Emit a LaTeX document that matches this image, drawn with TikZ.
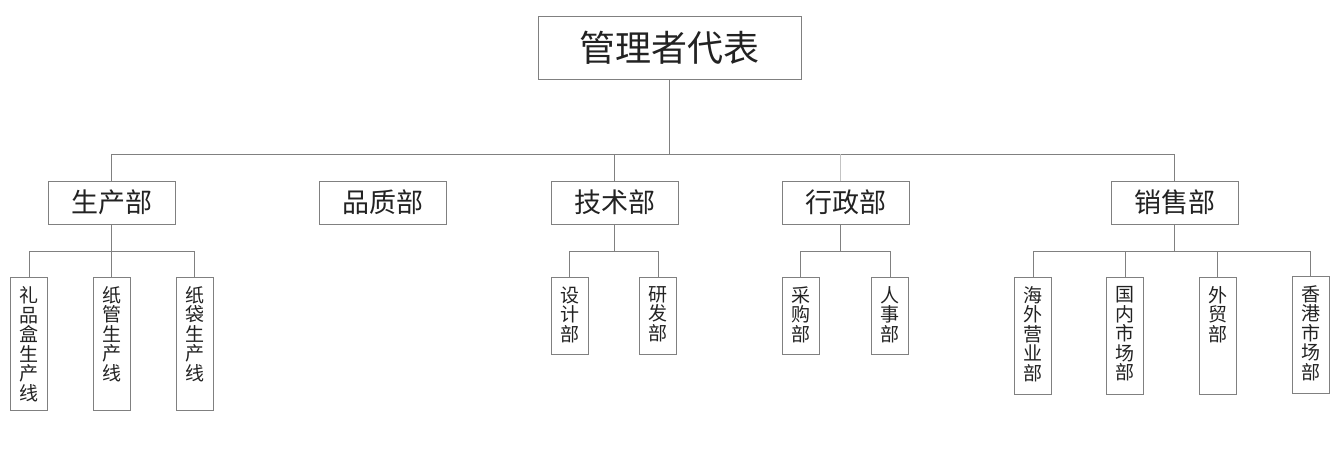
\documentclass[tikz,border=0pt]{standalone}
\usepackage{fontspec}
\setmainfont{Noto Sans CJK SC}
\usetikzlibrary{positioning}
\definecolor{linegray}{RGB}{128,128,128}
\definecolor{palegray}{RGB}{195,195,195}
\definecolor{txtgray}{RGB}{34,34,34}
\newcommand{\vcol}[2]{\parbox[c][#1][t]{20pt}{\centering\vspace*{9pt}#2}}

\begin{document}
\begin{tikzpicture}[x=1pt, y=-1pt,
  box/.style={draw=linegray, line width=1pt, text=txtgray, inner sep=0pt},
  headbox/.style={box, minimum width=263pt, minimum height=63pt, font=\fontsize{36}{40}\selectfont},
  deptbox/.style={box, minimum width=127pt, minimum height=43pt, font=\fontsize{27}{30}\selectfont},
  leafbox/.style={box, anchor=north, minimum width=37pt, font=\fontsize{19}{19.5}\selectfont},
  wire/.style={draw=linegray, line width=1pt},
  faint/.style={draw=palegray, line width=1pt}]
\useasboundingbox (0,0) rectangle (1340,448);

\node[headbox] (head) at (669.5,47.5) {管理者代表};

\node[deptbox] (sc) at (111.5,202.5) {生产部};
\node[deptbox] (pz) at (382.5,202.5) {品质部};
\node[deptbox] (js) at (614.5,202.5) {技术部};
\node[deptbox] (xz) at (845.5,202.5) {行政部};
\node[deptbox] (xs) at (1174.5,202.5) {销售部};

\node[leafbox] (lph) at (29,277) {\vcol{133pt}{礼\\品\\盒\\生\\产\\线}};
\node[leafbox] (zg) at (111.5,277) {\vcol{133pt}{纸\\管\\生\\产\\线}};
\node[leafbox] (zd) at (194.5,277) {\vcol{133pt}{纸\\袋\\生\\产\\线}};
\node[leafbox] (sj) at (569.5,277) {\vcol{77pt}{设\\计\\部}};
\node[leafbox] (yf) at (658,277) {\vcol{77pt}{研\\发\\部}};
\node[leafbox] (cg) at (800.5,277) {\vcol{77pt}{采\\购\\部}};
\node[leafbox] (rs) at (890,277) {\vcol{77pt}{人\\事\\部}};
\node[leafbox] (hw) at (1033,277) {\vcol{117pt}{海\\外\\营\\业\\部}};
\node[leafbox] (gn) at (1125,277) {\vcol{117pt}{国\\内\\市\\场\\部}};
\node[leafbox] (wm) at (1217.5,277) {\vcol{117pt}{外\\贸\\部}};
\node[leafbox] (xg) at (1310.5,276) {\vcol{117pt}{香\\港\\市\\场\\部}};

\coordinate (bus) at (0,154);
\coordinate (sub) at (0,251);
\coordinate (xzc) at ([xshift=-5pt]xz.north);

\draw[wire] (head.south) -- (head.south |- bus);
\draw[wire] (sc.north) |- (xs.north |- bus) -- (xs.north);
\draw[wire] (js.north) -- (js.north |- bus);
\draw[faint] (xzc) -- (xzc |- bus);

\draw[wire] (sc.south) -- (sc.south |- sub);
\draw[wire] (lph.north) |- (zd.north |- sub) -- (zd.north);
\draw[wire] (zg.north) -- (zg.north |- sub);

\draw[wire] (js.south) -- (js.south |- sub);
\draw[wire] (sj.north) |- (yf.north |- sub) -- (yf.north);

\draw[wire] (xz.south -| xzc) -- (xzc |- sub);
\draw[wire] (cg.north) |- (rs.north |- sub) -- (rs.north);

\draw[wire] (xs.south) -- (xs.south |- sub);
\draw[wire] (hw.north) |- (xg.north |- sub) -- (xg.north);
\draw[wire] (gn.north) -- (gn.north |- sub);
\draw[wire] (wm.north) -- (wm.north |- sub);
\end{tikzpicture}
\end{document}
